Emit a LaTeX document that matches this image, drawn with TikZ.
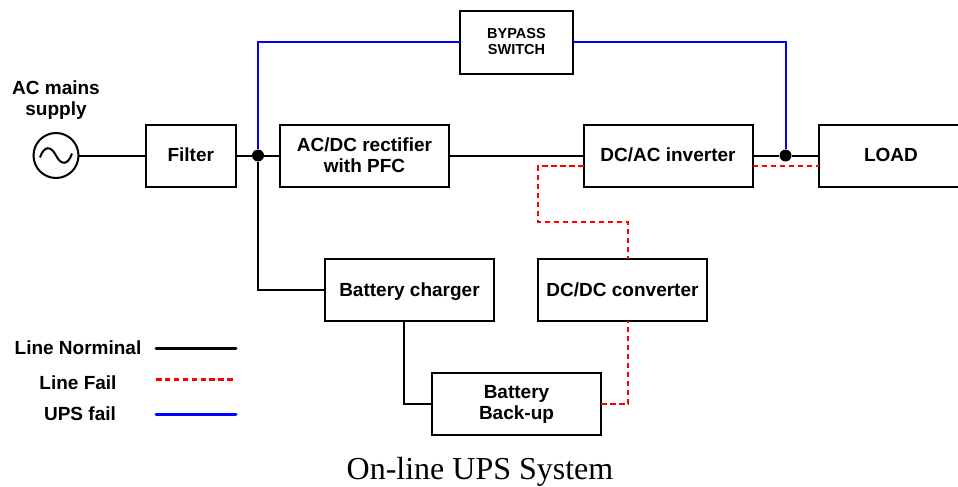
\documentclass[tikz,border=0pt]{standalone}
\usepackage{fontspec}
\setmainfont{Liberation Serif}
\setsansfont{Liberation Sans}
\usetikzlibrary{positioning}
\definecolor{upsblue}{HTML}{0000FF}
\definecolor{failred}{HTML}{FF0000}

\begin{document}
\begin{tikzpicture}[
  x=1pt,y=-1pt,
  box/.style={draw,line width=2pt,outer sep=0pt,minimum width=169pt,minimum height=62pt,align=center,text depth=2pt,font=\sffamily\bfseries\fontsize{19}{21}\selectfont},
  plain/.style={font=\sffamily\bfseries\fontsize{19}{21}\selectfont,align=center,inner sep=0pt},
  dotnode/.style={circle,fill=black,minimum size=12pt,inner sep=0pt},
  line/.style={line width=2pt,black},
  fail/.style={line width=2pt,failred,dash pattern=on 5.5pt off 3.5pt},
  bypass/.style={line width=2pt,upsblue}
]
  \useasboundingbox (0,0) rectangle (958,487);
  \node[circle,draw,line width=2pt,minimum size=45pt,inner sep=0pt,outer sep=0pt] (src) at (56,155.5) {};
  \node[plain,above=13pt of src] (mains) {AC mains\\supply};
  \node[box,minimum width=90.5pt] (filter) at (190.75,155.5) {Filter};
  \node[box,right=44pt of filter,text depth=0pt] (rect) {AC/DC rectifier\\with PFC};
  \node[box,right=134.5pt of rect] (inv) {DC/AC inverter};
  \node[box,right=66.5pt of inv,minimum width=144pt] (load) {LOAD};
  \node[box,above=51pt of rect,xshift=152pt,minimum width=113pt,font=\sffamily\bfseries\fontsize{14.5}{16}\selectfont] (switch) {BYPASS\\SWITCH};
  \node[box,below=72pt of rect,xshift=45pt,text depth=0pt] (charger) {Battery charger};
  \node[box,right=44pt of charger,text depth=0pt] (conv) {DC/DC converter};
  \node[box,below=52pt of charger,xshift=107pt] (backup) {Battery\\Back-up};
  \node[dotnode] (j1) at (258,155.5) {};
  \node[dotnode] (j2) at (785.5,155.5) {};
  % legend
  \node[plain] (lnorm) at (78,348) {Line Norminal};
  \node[plain] (lfail) at (78,383) {Line Fail};
  \node[plain] (lups) at (80,414) {UPS fail};
  \coordinate (a1) at (156,348);
  \coordinate (a2) at (236,348);
  \coordinate (b1) at (156,379);
  \coordinate (b2) at (236,379);
  \coordinate (c1) at (156,414);
  \coordinate (c2) at (236,414);
  \node[font=\fontsize{32}{36}\selectfont,inner sep=0pt] (title) at (480,472) {On-line UPS System};
  % free ends of the red runs
  \coordinate (invw) at (583.5,166);
  \coordinate (inve) at (752.5,166);
  \coordinate (loadw) at (819,166);
  \coordinate (back) at (601,404);
  \draw[line,shift={(src.center)}] (-16,2) .. controls (-12,-10) and (-5,-10) .. (0,0) .. controls (5,10) and (12,10) .. (16,-2);
  \draw[line] (src) -- (filter);
  \draw[line] (filter) -- (j1) -- (rect);
  \draw[line] (rect) -- (inv);
  \draw[line] (inv) -- (j2) -- (load);
  \draw[line] (j1) |- (charger);
  \draw[line] (charger.south -| 404,0) |- (backup);
  \draw[bypass] (j1) |- (switch);
  \draw[bypass] (switch) -| (j2);
  \draw[fail] (invw) -| (538,222) -| (conv.north -| 628,0);
  \draw[fail] (inve) -- (loadw);
  \draw[fail] (back) -| (conv.south -| 628,0);
  \draw[line,line cap=round,line width=3pt] (a1) -- (a2);
  \draw[fail,line width=3pt,dash pattern=on 5.5pt off 3.4pt] (b1) -- (b2);
  \draw[bypass,line cap=round,line width=3pt] (c1) -- (c2);
\end{tikzpicture}
\end{document}
